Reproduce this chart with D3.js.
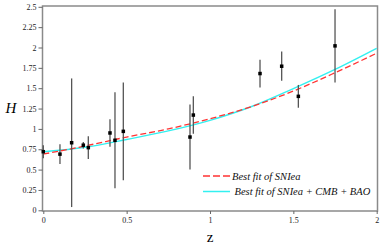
<!DOCTYPE html>
<html>
<head>
<meta charset="utf-8">
<script src="https://cdn.jsdelivr.net/npm/d3@7"></script>
<style>
  body { margin: 0; background: #fff; }
  svg text { font-family: "Liberation Serif", "DejaVu Serif", serif; }
</style>
</head>
<body>
<svg id="chart" width="382" height="248"></svg>
<script>
// observed H(z) points (z, H, error)
const zData = [0, 0.1, 0.17, 0.24, 0.27, 0.4, 0.43, 0.48, 0.88, 0.9, 1.3, 1.43, 1.53, 1.75];
const hData = [0.72, 0.69, 0.83, 0.80, 0.77, 0.95, 0.86, 0.97, 0.90, 1.17, 1.68, 1.77, 1.40, 2.02];
const hErr  = [0.08, 0.12, 0.79, 0.04, 0.14, 0.17, 0.59, 0.60, 0.40, 0.23, 0.17, 0.18, 0.14, 0.45];

const zFit = [0, 0.25, 0.5, 0.75, 1, 1.25, 1.5, 1.75, 2];
const fitSN = [0.69, 0.79, 0.90, 1.00, 1.125, 1.275, 1.465, 1.69, 1.93];
const fitAll = [0.72, 0.775, 0.87, 0.975, 1.105, 1.275, 1.495, 1.73, 1.99];

const xTicks = [0, 0.5, 1, 1.5, 2];
const yTicks = [0, 0.25, 0.5, 0.75, 1, 1.25, 1.5, 1.75, 2, 2.25, 2.5];

const legendItems = [
  { label: "Best fit of SNIea", color: "#ff3333", dash: "7,3" },
  { label: "Best fit of SNIea + CMB + BAO", color: "#33f0f0", dash: null }
];

const svg = d3.select("#chart");
const frame = { left: 42.5, right: 377.5, top: 6, bottom: 211 };

const x = d3.scaleLinear().domain([0, 2]).range([43.3, 376.7]);
const y = d3.scaleLinear().domain([0, 2.5]).range([210.3, 6.8]);

// frame
svg.append("rect")
  .attr("x", frame.left).attr("y", frame.top)
  .attr("width", frame.right - frame.left)
  .attr("height", frame.bottom - frame.top)
  .attr("fill", "none")
  .attr("stroke", "#8a8a8a")
  .attr("stroke-width", 1.5);

// axes
const fmt = d => d3.format("")(d);
const xAxis = d3.axisBottom(x).tickValues(xTicks).tickSize(3).tickPadding(3).tickFormat(fmt);
const yAxis = d3.axisLeft(y).tickValues(yTicks).tickSize(4).tickPadding(2).tickFormat(fmt);

const gx = svg.append("g").attr("transform", `translate(0,${frame.bottom})`).call(xAxis);
const gy = svg.append("g").attr("transform", `translate(${frame.left},0)`).call(yAxis);
[gx, gy].forEach(g => {
  g.select(".domain").remove();
  g.selectAll(".tick line").attr("stroke", "#666");
  g.selectAll(".tick text")
    .attr("fill", "#222")
    .style("font-size", "8px");
});

// curves
const line = vals => d3.line()
  .x((d, i) => x(zFit[i]))
  .y(d => y(d))
  .curve(d3.curveMonotoneX)(vals);

svg.append("path")
  .attr("d", line(fitAll))
  .attr("fill", "none")
  .attr("stroke", legendItems[1].color)
  .attr("stroke-width", 1.4);

svg.append("path")
  .attr("d", line(fitSN))
  .attr("fill", "none")
  .attr("stroke", legendItems[0].color)
  .attr("stroke-width", 1.3)
  .attr("stroke-dasharray", "6,3");

// error bars and points
const pts = zData.map((z, i) => ({ z: z, h: hData[i], e: hErr[i] }));

svg.append("g").selectAll("line")
  .data(pts).enter().append("line")
  .attr("x1", d => x(d.z)).attr("x2", d => x(d.z))
  .attr("y1", d => y(d.h + d.e)).attr("y2", d => y(d.h - d.e))
  .attr("stroke", "#555")
  .attr("stroke-width", 1.3);

svg.append("g").selectAll("rect")
  .data(pts).enter().append("rect")
  .attr("x", d => x(d.z) - 1.75).attr("y", d => y(d.h) - 1.75)
  .attr("width", 3.5).attr("height", 3.5)
  .attr("fill", "#000");

// legend
const leg = svg.append("g");
legendItems.forEach((item, i) => {
  const ly = 176 + i * 15.5;
  leg.append("line")
    .attr("x1", 203).attr("x2", 230)
    .attr("y1", ly).attr("y2", ly)
    .attr("stroke", item.color)
    .attr("stroke-width", 1.5)
    .attr("stroke-dasharray", item.dash);
  leg.append("text")
    .attr("x", i === 0 ? 232 : 234.5)
    .attr("y", ly + 3.5)
    .style("font-size", "10.5px")
    .style("font-style", "italic")
    .attr("fill", "#111")
    .text(item.label);
});

// axis titles
svg.append("text")
  .attr("x", 11).attr("y", 113)
  .attr("text-anchor", "middle")
  .style("font-size", "15px")
  .style("font-style", "italic")
  .text("H");

svg.append("text")
  .attr("x", 210).attr("y", 242)
  .attr("text-anchor", "middle")
  .style("font-size", "15px")
  .text("z");
</script>
</body>
</html>
